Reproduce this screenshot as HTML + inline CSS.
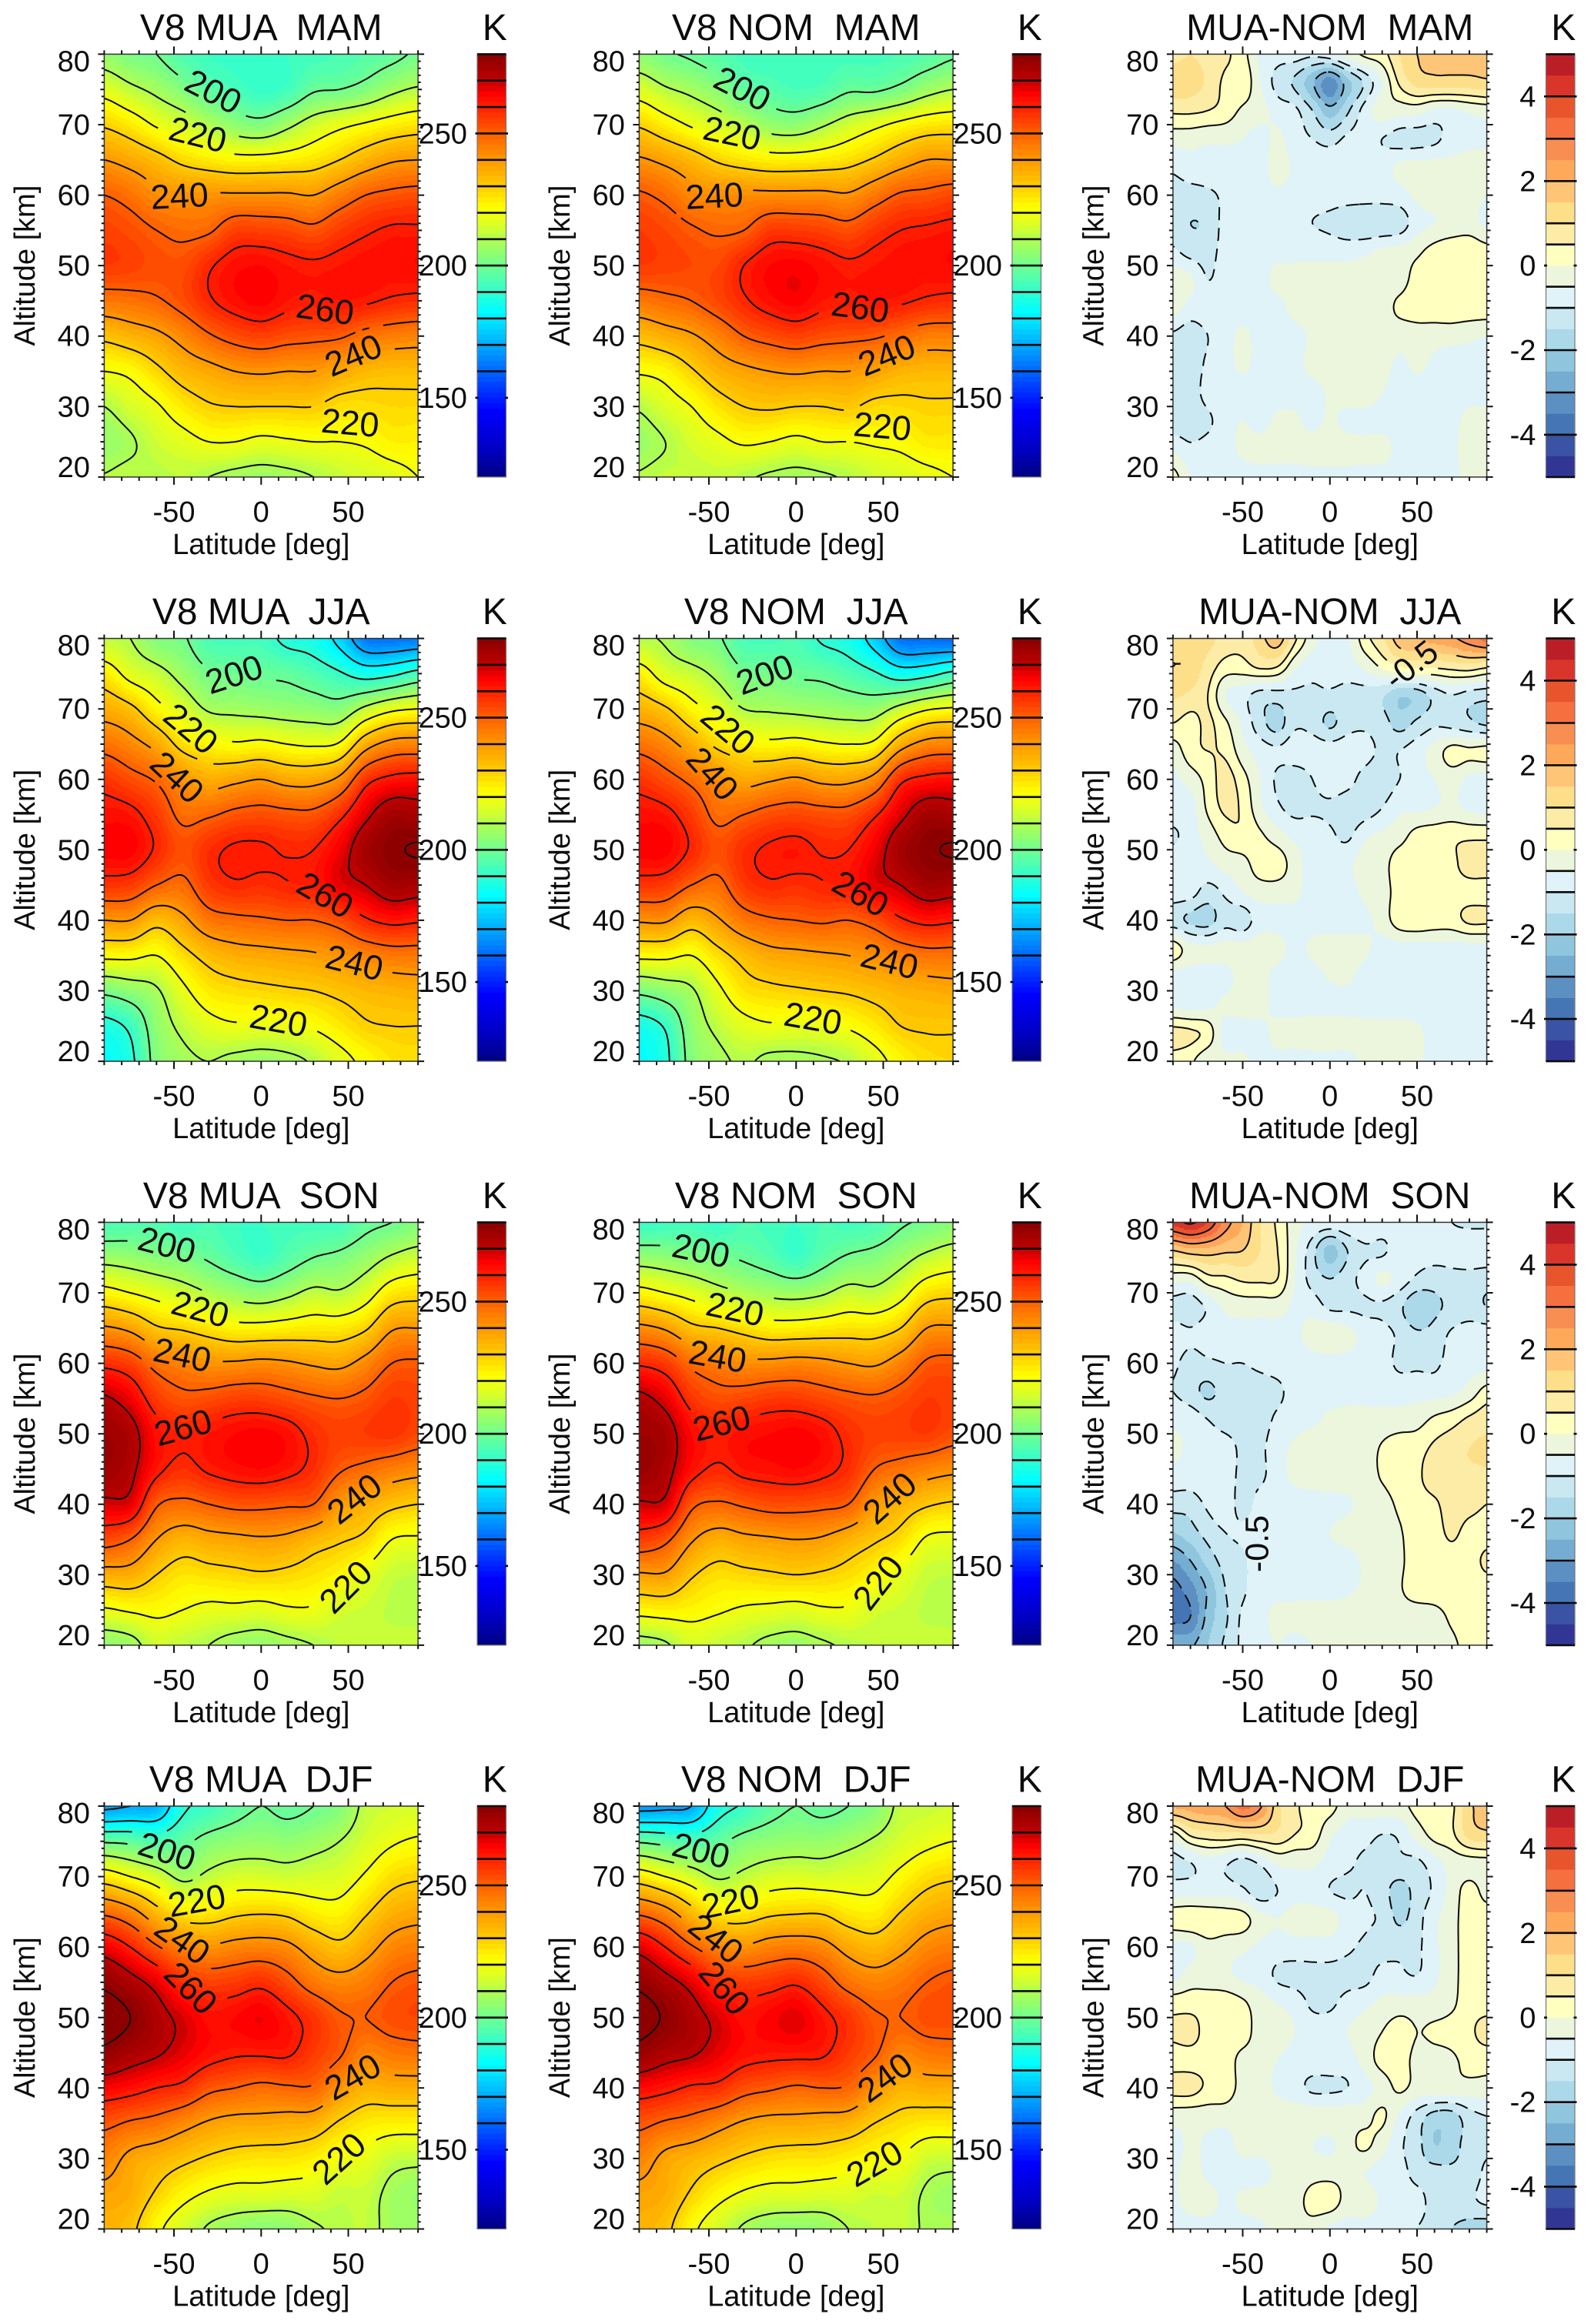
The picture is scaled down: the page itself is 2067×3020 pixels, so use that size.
<!DOCTYPE html>
<html lang="en">
<head>
<meta charset="utf-8">
<title>Temperature by latitude and altitude: MUA, NOM and difference</title>
<style>
html,body{margin:0;padding:0;background:#fff;}
svg{display:block;font-family:"Liberation Sans",Arial,sans-serif;}
text{fill:#0c0c0c;white-space:pre;}
</style>
</head>
<body>
<svg id="chart" xmlns="http://www.w3.org/2000/svg" width="2067" height="3020" viewBox="0 0 2067 3020"></svg>
<script>
// ---- grid coordinates ----
const T_LATS = [-90,-75,-60,-45,-30,-15,0,15,30,45,60,75,90];
const T_ALTS = [80,75,70,65,60,55,50,45,40,35,30,25,20];
const D_LATS = [-90,-80,-70,-60,-50,-40,-30,-20,-10,0,10,20,30,40,50,60,70,80,90];
const D_ALTS = [80,76,72,68,64,60,56,52,48,44,40,36,32,28,24,20];
const SEASONS = ['MAM','JJA','SON','DJF'];
const T_TICKS = [150,200,250];
const D_TICKS = [-4,-2,0,2,4];
const X_TICKS = [-50,0,50];
const Y_TICKS = [20,30,40,50,60,70,80];
const T_LINE_LEVELS = [160,170,180,190,200,210,220,230,240,250,260,270,280];
const D_LINE_LEVELS = [-5,-4,-3,-2,-1,-0.5,0.5,1,2,3,4,5];
// contours on the difference maps follow the fill band edges
const D_PLOT_LEVELS = [-4.5,-3.5,-2.5,-1.5,-1,0,0.5,1.5,2.5,3.5,4.5];

// ---- temperature [K]: one row per latitude in T_LATS, values follow T_ALTS ----
const MAM_MUA = [
[206,217,229,240,250,255,256,246,232,220,210,206,210.3],
[202,212,225,237,247,253,255,247,235,222,215,209,212],
[200,208,219,233,242,250,253,249,238,228,219,214,211],
[195,203,215,228,241,248,253,253,243,234,225,217,212],
[192,197,210,225,241,249,259,259,249,237,229,220,210],
[191,194,205,223,241,255,263,263,253,240,230,220,208],
[192,191,203,223,241,255,264,265,255,241,230,218,207],
[192,193,208,224,241,254,262,262,253,240,230,219,208],
[193,199,214,226,240,252,261,261,252,240,230,220,210],
[194,200,218,230,245,256,262,262,251,237,227,220,213],
[196,203,221,235,250,259,263,261,247,234,227,221,215],
[198,208,224,239,252,261,263,259,245,233,228,224,217],
[201,211,226,240,253,261,264,258,244,233,228,224,220]];
const MAM_NOM = [
[205,216,229,241,251,256,256,246,233,221,211,207,210.5],
[201,211,224,238,248,254,255,248,236,223,216,210,212.5],
[199,208,219,234,243,251,254,250,239,229,220,215,212],
[196,204,215,229,242,249,254,254,244,235,226,218,213],
[193,198,211,226,242,250,260,259,250,238,230,221,211],
[192,196,206,224,242,256,264,263,253,240,231,220,209],
[193,194,205,224,242,256,265,265,255,241,230,218,208],
[193,195,209,225,242,255,263,262,253,240,230,220,209],
[193,199,214,227,241,253,261,261,252,240,231,220,211],
[193,199,218,231,246,257,262,262,251,238,228,221,214],
[194,202,222,236,251,260,263,261,248,235,228,222,216],
[196,207,225,240,252,261,263,259,245,234,229,225,218],
[199,210,226,240,254,262,264,258,245,234,229,225,220]];
const JJA_MUA = [
[212,225,236,247,257,263,265,257,240,222,202,187,183],
[210,217,232,243,253,262,265,256,240,222,205,192,188],
[203,213,223,237,249,256,259,250,233,220,209,205,203],
[201,207,216,227,241,248,253,248,238,227,218,212,208],
[194,201,209,223,236,249,258,256,246,233,225,217,210],
[193,200,208,221,238,252,261,259,248,236,227,219,208],
[193,199,207,222,240,253,261,258,249,237,228,218,207],
[188,198,206,220,237,252,259.3,259.5,250,238,229,219,208],
[186,195,205,219,237,252,260,261,250,239,230,221,211],
[177,191,204,221,242,258,266,267,253,241,232,225,217],
[163,186,212,236,257,268,275,270,259,244,234,229,222],
[162,188,218,243,262,275,279,275,262,246,235,230,226],
[163,193,220,244,263,274,280.5,274,261,246,236,230,227]];
const JJA_NOM = [
[211,224,235,247,257,263,265,257,241,222,202,186,183],
[209,216,231,243,253,262,265,256,241,222,205,191,188],
[203,213,223,236,248,256,259,250,234,220,209,205,203],
[201,208,217,228,242,248,253,248,239,227,218,212,208],
[194,201,210,224,237,250,258,256,246,233,226,217,211],
[193,201,209,222,239,253,261,259,249,237,228,219,208],
[194,199,208,223,241,254,262,258,250,238,229,218,208],
[189,198,207,221,238,253,259.5,259.5,251,239,230,219,209],
[186,195,206,220,238,253,260,261,250,240,231,221,211],
[176,191,206,222,243,259,266,267,253,242,233,225,217],
[162,185,213,236,258,268,275,270,259,245,235,230,223],
[161,187,219,243,262,275,279,275,262,247,236,231,227],
[160,192,221,244,263,274,280.5,274,261,247,237,231,228]];
const SON_MUA = [
[194,207,223,241,258,271,276,276,268,254,236,219,205],
[195,206,220,238,255,266,273,272,267,250,236,221,207],
[195,204,217,231,247,256,263,262,251,240,230,222,214],
[192,202,214,229,244,252,260,258,248,235,226,220,212],
[194,199,210,226,241,253,262,261,250,237,227,218,210],
[192,195,207,223,241,255,264,263,252,238,228,218,207],
[192,192,205,223,242,255,265,264,252,239,229,217,206],
[193,196,208,224,241,253,263,262,251,238,228,219,208],
[193,200,212,225,239,251,258,258,250,234,226,219,210],
[193,202,211,225,238,250,255,251,240,231,223,215,212],
[198,206,216,229,243,252,256,248,236,228,218,213.5,212],
[200,211,225,239,250,256,257,245,232,220,213,211.5,213],
[203,214,227,240,251,255,254,243,230,219,212,210.2,214]];
const SON_NOM = [
[191,206,223,242,259,272,276,277,269,256,239,223,207],
[192,205,220,239,256,267,274,273,268,252,239,224,209],
[193,203,217,232,248,257,264,263,252,241,231,223,215],
[191,201,213,230,245,253,261,259,249,236,227,221,213],
[194,199,210,227,242,254,263,262,251,238,228,219,211],
[193,196,208,224,242,256,264,263,253,239,229,218,208],
[192,192,207,224,243,256,265,264,253,240,230,217,207],
[194,197,209,225,242,254,263,262,252,239,229,219,209],
[193,201,213,226,240,252,258,258,250,235,227,219,211],
[194,203,212,226,239,251,255,250,240,231,223,215,212],
[199,207,217,230,244,253,255,247,235,227,218,213.5,212],
[201,212,226,240,251,256,256,244,231,219,213,211.5,213],
[204,215,228,241,252,255,253,242,229,218,212,210.2,214]];
const DJF_MUA = [
[168,199,225,248,266,278,284,278,265,252,244,238,235],
[170,198,220,243,260,273,280,274,263,249,238,236,232],
[172,195,215,233,251,267,273,271,260,247,235,229,222],
[188,198,208,225,244,258,268,267,258,243,232,223,215],
[192,203,212,225,241,255,263,263,252,239,229,219,209],
[197,205,215,228,243,256,264,261,250,237,227,217,206],
[200,206,215,229,244,258,266,261,248,237,226,217,204],
[198,205,214,228,242,253,262,261,249,236,226,216,205],
[200,207,215,224,236,246,257,256,249,235,224,216,209],
[203,210,216,223,232,243,251,251,241,229,220,213,211],
[212,215,221,229,237,245,250,244,235,225,218,213,212],
[214,219,227,235,243,250,253,246,236,224,213,208,208],
[215,221,229,237,245,252,254,247,236,224,212,206,207]];
const DJF_NOM = [
[167,199,225,248,267,278,283,277,264,252,244,238,235],
[168,197,220,243,260,273,279,273,262,249,238,236,232],
[170,195,215,233,251,267,273,271,259,247,235,229,222],
[186,198,209,225,244,258,268,267,258,243,232,223,215],
[191,203,212,225,241,256,263,263,253,239,229,219,209],
[197,205,215,228,244,257,265,262,251,237,227,217,206],
[200,206,216,229,245,259,267,262,249,237,226,217,205],
[198,206,215,229,243,254,262,261,250,236,226,216,206],
[200,208,216,225,237,247,257,256,249,235,224,216,210],
[203,211,217,224,234,244,251,251,241,230,222,214,212],
[212,215,222,230,238,246,250,244,235,227,220,214,213],
[213,218,227,235,243,250,253,246,236,225,214,209,209],
[214,220,229,237,245,252,253,247,236,225,213,207,209]];

// ---- MUA minus NOM [K]: one row per altitude in D_ALTS, values follow D_LATS ----
const MAM_DIFF = [
[0.8,1.0,0.8,0.6,0.2,-0.6,-0.8,-0.8,-0.9,-0.7,-0.3,0.1,0.3,1.0,1.5,1.6,1.6,1.7,1.6],
[1.4,1.3,0.9,0.4,0.4,-0.5,-1.2,-1.6,-2.4,-3.3,-2.2,-1.4,-0.5,0.6,1.2,1.3,1.3,1.3,1.4],
[0.6,0.6,0.5,0.3,-0.1,-0.3,-0.7,-0.9,-1.5,-2.3,-1.6,-0.8,-0.2,-0.3,-0.3,-0.6,-0.6,-0.4,-0.3],
[-0.3,-0.3,-0.4,-0.4,-0.5,-0.7,-0.4,-0.8,-1.0,-1.2,-0.9,-0.8,-1.0,-1.2,-1.2,-1.1,-0.8,-0.6,-0.6],
[-0.9,-0.7,-0.7,-0.7,-0.7,-0.7,-0.3,-0.6,-0.7,-0.7,-0.7,-0.7,-0.7,-0.4,-0.3,-0.3,-0.3,-0.3,-0.3],
[-1.2,-1.2,-1.1,-0.9,-0.7,-0.7,-0.6,-0.7,-0.8,-0.8,-0.8,-0.8,-0.8,-0.7,-0.4,-0.3,-0.3,-0.3,-0.5],
[-1.3,-1.5,-1.4,-0.8,-0.7,-0.7,-0.9,-0.9,-1.0,-1.1,-1.3,-1.4,-1.4,-1.3,-0.7,-0.5,-0.4,-0.3,-0.6],
[-0.9,-1.2,-1.2,-0.8,-0.7,-0.7,-0.7,-0.7,-0.7,-0.7,-0.7,-0.6,-0.4,-0.3,-0.1,0.2,0.4,0.4,0.2],
[-0.2,-0.4,-1.0,-0.7,-0.6,-0.7,-0.3,-0.2,-0.2,-0.2,-0.2,-0.2,-0.2,-0.2,0.2,0.3,0.3,0.3,0.3],
[-0.3,-0.7,-0.7,-0.7,-0.7,-0.7,-0.7,-0.3,-0.2,-0.2,-0.2,-0.2,-0.2,0.1,0.2,0.3,0.3,0.3,0.3],
[-1.1,-1.3,-1.0,-0.7,-0.4,-0.7,-0.7,-0.7,-0.4,-0.2,-0.2,-0.2,-0.2,-0.3,-0.2,-0.3,-0.3,-0.4,-0.5],
[-1.3,-1.3,-0.9,-0.7,-0.4,-0.7,-0.7,-0.7,-0.3,-0.2,-0.2,-0.2,-0.3,-0.6,-0.4,-0.6,-0.8,-0.7,-0.7],
[-1.5,-1.3,-0.8,-0.7,-0.7,-0.7,-0.7,-0.7,-0.7,-0.4,-0.2,-0.2,-0.5,-0.7,-0.7,-0.7,-0.8,-0.7,-0.7],
[-1.3,-1.3,-1.1,-0.7,-0.5,-0.7,-0.4,-0.4,-0.7,-0.4,-0.7,-0.7,-0.7,-0.7,-0.8,-0.7,-0.7,-0.3,-0.3],
[-0.6,-0.9,-0.8,-0.7,-0.4,-0.3,-0.3,-0.3,-0.2,-0.2,-0.2,-0.3,-0.3,-0.7,-0.9,-0.7,-0.6,-0.3,-0.3],
[0.2,-0.5,-0.7,-0.7,-0.7,-0.7,-0.7,-0.7,-0.7,-0.7,-0.7,-0.7,-0.7,-0.7,-0.8,-0.9,-0.7,-0.3,-0.3]];
const JJA_DIFF = [
[1.3,1.4,1.2,0.8,0.7,1.3,1.8,0.6,-0.3,-0.7,-0.6,0.3,0.9,1.8,2.0,2.2,2.4,2.8,3.2],
[1.5,1.4,0.8,0.3,0.3,0.6,0.5,-0.4,-0.8,-0.7,-0.7,-0.4,0.1,0.5,0.6,0.6,0.7,0.8,0.6],
[1.1,0.9,0.5,-0.5,-0.8,-1.2,-1.2,-1.1,-1.1,-1.1,-1.2,-1.2,-1.4,-1.9,-1.8,-1.3,-1.0,-1.2,-1.3],
[0.5,0.3,0.6,0.1,-0.6,-1.3,-1.7,-1.1,-1.2,-1.6,-1.2,-1.1,-1.3,-1.7,-1.4,-1.1,-1.2,-1.4,-1.6],
[-0.3,0.3,0.5,0.4,-0.3,-0.7,-0.9,-0.7,-0.7,-0.7,-0.7,-0.8,-1.1,-1.0,-0.7,-0.3,0.2,0.1,0.2],
[-0.6,-0.3,0.2,0.7,0.2,-0.5,-1.1,-1.3,-1.0,-0.7,-0.8,-1.2,-1.3,-1.0,-0.7,-0.5,-0.3,-0.6,-0.7],
[-0.6,-0.7,0.1,0.6,0.4,-0.4,-0.9,-1.2,-1.1,-1.1,-1.3,-1.3,-1.0,-0.6,-0.6,-0.5,-0.4,-0.6,-0.7],
[-1.1,-0.7,-0.3,0.2,0.4,0.1,-0.3,-0.6,-0.7,-0.9,-1.1,-0.6,-0.4,-0.2,0.2,0.3,0.4,0.4,0.4],
[-0.6,-0.7,-0.6,-0.3,-0.2,0.3,0.3,-0.3,-0.7,-0.7,-0.6,-0.3,-0.2,0.3,0.3,0.3,0.4,0.7,0.7],
[-0.7,-0.8,-1.2,-0.9,-0.5,-0.3,-0.3,-0.4,-0.7,-0.7,-0.7,-0.4,-0.3,0.3,0.3,0.3,0.3,0.3,0.3],
[-1.3,-1.6,-1.7,-1.2,-1.3,-0.7,-0.7,-0.7,-0.7,-0.7,-0.7,-0.6,-0.3,0.3,0.4,0.3,0.3,0.6,0.6],
[0.3,-0.3,-0.4,-0.3,-0.3,-0.2,-0.3,-0.7,-0.4,-0.3,-0.3,-0.4,-0.7,-0.7,-0.7,-0.7,-0.7,-0.7,-0.7],
[-0.7,-0.7,-0.7,-0.7,-0.3,-0.3,-0.7,-0.7,-0.7,-0.45,-0.4,-0.7,-0.7,-0.7,-0.7,-0.7,-0.7,-0.7,-0.7],
[-0.6,-0.7,-0.6,-0.4,-0.3,-0.3,-0.7,-0.7,-0.7,-0.7,-0.7,-0.7,-0.7,-0.7,-0.7,-0.7,-0.7,-0.7,-0.7],
[0.7,0.6,0.3,-0.7,-0.7,-0.7,-0.3,-0.3,-0.2,-0.2,-0.2,-0.3,-0.3,-0.3,-0.4,-0.7,-0.7,-0.6,-0.6],
[0.3,0.1,-0.4,-0.4,-0.4,-0.7,-0.7,-0.7,-0.7,-0.7,-0.7,-0.4,-0.3,-0.3,-0.4,-0.7,-0.7,-0.7,-0.7]];
const SON_DIFF = [
[4.2,4.6,4.0,2.8,2.0,1.0,0.4,-0.3,-0.6,-0.7,-0.6,-0.5,-0.7,-0.9,-0.7,-0.8,-1.0,-1.1,-1.1],
[1.5,1.8,1.8,1.6,1.5,1.0,0.5,-0.4,-1.3,-2.2,-1.5,-1.1,-1.1,-0.7,-0.7,-0.7,-0.7,-0.6,-0.6],
[-0.3,-0.3,0.3,0.4,0.6,0.6,0.5,-0.5,-1.2,-1.5,-1.2,-0.8,-0.4,-0.7,-1.1,-1.3,-1.2,-1.2,-1.3],
[-1.2,-1.3,-0.9,-0.4,-0.3,-0.3,-0.3,-0.6,-0.7,-1.1,-1.1,-1.1,-1.1,-1.4,-1.9,-1.6,-1.4,-1.3,-1.5],
[-0.7,-0.9,-0.7,-0.7,-0.7,-0.7,-0.7,-0.6,-0.3,-0.1,-0.3,-0.7,-0.8,-1.1,-1.4,-1.3,-0.9,-0.7,-0.7],
[-0.9,-1.2,-1.1,-1.0,-1.0,-0.9,-0.8,-0.7,-0.7,-0.7,-0.7,-0.7,-0.8,-1.1,-1.1,-1.1,-0.8,-0.7,-0.7],
[-1.0,-1.3,-1.6,-1.3,-1.2,-1.2,-1.1,-0.8,-0.7,-0.7,-0.7,-0.7,-0.7,-0.7,-0.7,-0.7,-0.6,-0.3,0.2],
[-0.6,-0.7,-1.0,-1.2,-1.2,-1.2,-0.9,-0.7,-0.6,-0.4,-0.3,-0.3,-0.3,-0.3,-0.2,0.1,0.3,0.6,0.8],
[-0.4,-0.6,-0.7,-0.8,-1.1,-1.1,-0.7,-0.4,-0.2,-0.2,-0.2,-0.2,0.05,0.3,0.3,0.6,0.8,1.0,1.1],
[-0.7,-0.7,-0.6,-0.8,-1.1,-1.1,-0.7,-0.4,-0.3,-0.2,-0.2,-0.2,0.05,0.3,0.4,0.8,0.9,0.9,0.9],
[-1.3,-1.3,-0.9,-0.7,-1.2,-0.8,-0.7,-0.7,-0.7,-0.7,-0.6,-0.3,-0.2,0.1,0.3,0.4,0.8,0.7,0.5],
[-2.0,-1.7,-1.3,-1.0,-0.9,-0.7,-0.7,-0.7,-0.7,-0.5,-0.3,-0.2,-0.2,-0.05,0.3,0.3,0.6,0.3,0.3],
[-3.0,-2.5,-1.8,-1.3,-1.1,-0.7,-0.7,-0.7,-0.7,-0.7,-0.7,-0.4,-0.2,-0.1,0.3,0.3,0.3,0.3,0.6],
[-3.7,-3.2,-2.4,-1.5,-1.1,-0.7,-0.7,-0.7,-0.7,-0.7,-0.6,-0.4,-0.2,-0.05,0.3,0.3,0.3,0.3,0.3],
[-3.7,-3.5,-2.3,-1.6,-0.9,-0.7,-0.3,-0.3,-0.2,-0.2,-0.2,-0.2,-0.2,-0.2,-0.3,-0.2,0.1,0.3,0.3],
[-2.6,-2.6,-2.0,-1.4,-0.9,-0.7,-0.5,-0.7,-0.5,-0.3,-0.3,-0.5,-0.3,-0.2,-0.2,-0.2,-0.1,0.2,0.3]];
const DJF_DIFF = [
[2.1,2.2,2.4,2.5,3.2,2.6,1.2,0.6,0.3,0.2,-0.3,-0.3,-0.2,-0.2,0.2,0.3,0.4,1.4,1.6],
[-0.2,0.6,0.8,0.9,0.9,1.0,0.9,0.5,0.3,-0.4,-0.7,-0.8,-1.0,-0.9,-0.3,0.2,0.4,1.2,1.4],
[-1.2,-1.0,-0.7,-0.9,-1.2,-0.9,-0.4,-0.4,-0.4,-0.7,-0.9,-1.1,-1.2,-1.1,-1.1,-0.7,-0.3,-0.2,-0.2],
[-0.7,-0.7,-0.7,-0.7,-0.9,-1.3,-1.0,-0.7,-0.7,-1.0,-1.1,-1.0,-1.3,-1.7,-1.3,-0.9,-0.3,0.2,-0.2],
[0.3,0.4,0.4,0.3,0.2,-0.3,-0.5,-0.3,-0.3,-0.3,-0.7,-0.9,-1.1,-1.6,-1.2,-0.6,-0.2,0.3,0.3],
[-0.7,-0.6,-0.2,-0.3,-0.4,-0.6,-0.7,-0.7,-0.7,-0.7,-0.9,-1.1,-1.2,-1.1,-1.1,-0.6,-0.2,0.3,0.3],
[-0.7,-0.3,-0.3,-0.4,-0.6,-0.7,-1.1,-1.2,-1.2,-1.2,-1.2,-1.2,-0.8,-0.9,-1.0,-0.6,-0.2,0.3,0.3],
[0.3,0.3,0.3,0.3,0.1,-0.3,-0.5,-0.7,-1.1,-1.1,-0.8,-0.6,-0.4,-0.3,-0.3,-0.3,-0.1,0.3,0.3],
[0.6,0.7,0.3,0.3,0.3,-0.3,-0.3,-0.5,-0.7,-0.7,-0.5,-0.3,0.0,0.3,0.0,0.1,0.2,0.4,0.7],
[0.3,0.3,0.3,0.3,-0.2,-0.3,-0.5,-0.7,-0.7,-0.7,-0.7,-0.3,0.2,0.3,-0.2,-0.2,-0.1,0.2,0.2],
[0.7,0.7,0.4,0.3,-0.2,-0.3,-0.6,-0.8,-1.1,-1.1,-1.0,-0.7,-0.3,0.1,-0.2,-0.2,-0.2,-0.2,-0.2],
[-0.3,-0.3,-0.3,-0.3,-0.3,-0.2,-0.2,-0.2,-0.2,-0.2,-0.2,-0.2,0.1,-0.6,-1.2,-1.7,-1.7,-1.2,-1.0],
[-0.7,-0.4,-0.6,-0.7,-0.3,-0.3,-0.3,-0.2,-0.5,-0.6,-0.2,0.1,-0.3,-0.9,-1.3,-2.0,-1.7,-1.3,-1.1],
[-0.6,-0.3,-0.6,-0.7,-0.7,-0.7,-0.4,-0.3,-0.2,-0.2,-0.2,-0.5,-0.7,-0.8,-1.2,-1.3,-1.4,-1.3,-0.9],
[-0.6,-0.3,-0.3,-0.6,-0.4,-0.3,-0.3,-0.2,0.2,0.3,-0.2,-0.2,-0.6,-0.7,-0.8,-1.2,-1.2,-1.1,-0.9],
[-0.7,-0.7,-0.7,-0.7,-0.7,-0.6,-0.3,-0.2,-0.2,-0.6,-0.7,-0.7,-0.7,-0.8,-1.0,-1.2,-1.5,-1.7,-1.8]];

// ---- inline contour labels: text, latitude, altitude, rotation ----
const MAM_MUA_LABELS = [['200',-27.4,74.7,27],['220',-36.3,68.6,14],['240',-46.8,59.9,-3],['260',36.7,43.8,8],['240',52.9,37.3,-23],['220',51.1,27.7,5]];
const MAM_NOM_LABELS = [['200',-30.8,75.1,27],['220',-36.7,68.8,12],['240',-46.9,59.9,-3],['260',36.8,44.1,8],['240',52,37.3,-22],['220',49.5,27.2,5]];
const JJA_MUA_LABELS = [['200',-15.6,74.9,-18],['220',-40.3,67.2,40],['240',-48.2,60.3,43],['260',36.7,43.6,30],['240',53.5,34,14],['220',10,25.8,10]];
const JJA_NOM_LABELS = [['200',-18,74.9,-20],['220',-39,67.1,40],['240',-48,60.8,48],['260',37,43.8,30],['240',53.6,34.2,14],['220',9.7,26.1,10]];
const SON_MUA_LABELS = [['200',-54,76.8,15],['220',-34.9,67.7,15],['240',-45.2,61.2,12],['260',-44.8,50.9,-15],['240',53.5,40.8,-38],['220',48.5,28.3,-45]];
const SON_NOM_LABELS = [['200',-54.5,76,12],['220',-35,67.7,12],['240',-45,61,10],['260',-42.7,51.5,-14],['240',53.7,40.9,-42],['220',47,28.9,-52]];
const DJF_MUA_LABELS = [['200',-54,73.6,18],['220',-36.9,66.6,-10],['240',-45.2,61,35],['260',-40.3,54.2,45],['240',52.5,41.6,-30],['220',44.6,30,-42]];
const DJF_NOM_LABELS = [['200',-54.5,73.7,14],['220',-37.6,66.5,-12],['240',-46,61.2,38],['260',-41,54.2,50],['240',51,41.5,-36],['220',45,29.3,-30]];
const MAM_DIFF_LABELS = [];
const JJA_DIFF_LABELS = [['-0.5',46.8,76.2,-38]];
const SON_DIFF_LABELS = [['-0.5',-41.6,34.4,-90]];
const DJF_DIFF_LABELS = [];

// ---- colour scales ----
const T_STOPS = [[120,'#000080'],[130,'#0000c0'],[145,'#0000ff'],[150,'#0020ff'],[160,'#0066ff'],[170,'#00aaff'],[183,'#00ffff'],[190,'#30ffd0'],[200,'#70ff90'],[210,'#b0ff50'],[215,'#d8ff28'],[222,'#ffff00'],[230,'#ffcc00'],[240,'#ff9900'],[250,'#ff6000'],[260,'#ff2000'],[265,'#ff0000'],[270,'#c00000'],[280,'#880000']];
const D_COLORS = ['#313695','#3a53a4','#4575b4','#5c90c2','#74add1','#90c5de','#abd9e9','#c9e8f2','#e0f3f8','#ecf6dc','#ffffc0','#fdeca6','#fddf8a','#fec576','#fda959','#f98e52','#f6703f','#e8552d','#d9352a','#bb1e26'];

// ---- page geometry ----
const COL_LEFT = [135.4,830.4,1523.9];
const ROW_TOP = [70.4,829.6,1588.4,2347];
const PLOT_W = 407.7, PLOT_H = 549.5;
const BAR_GAP = 484.6, BAR_W = 37.5;

const svg = document.getElementById('chart');
const NS = 'http://www.w3.org/2000/svg';
function mk(tag, attrs, parent){
  const e = document.createElementNS(NS, tag);
  for (const k in attrs) e.setAttribute(k, attrs[k]);
  (parent || svg).appendChild(e);
  return e;
}
function hex(c){ return [parseInt(c.slice(1,3),16),parseInt(c.slice(3,5),16),parseInt(c.slice(5,7),16)]; }
function tempColor(v){
  if (v <= T_STOPS[0][0]) return T_STOPS[0][1];
  for (let i = 1; i < T_STOPS.length; i++){
    if (v <= T_STOPS[i][0]){
      const a = T_STOPS[i-1], b = T_STOPS[i], f = (v-a[0])/(b[0]-a[0]);
      const ca = hex(a[1]), cb = hex(b[1]);
      return 'rgb(' + ca.map((x,n) => Math.round(x+(cb[n]-x)*f)).join(',') + ')';
    }
  }
  return T_STOPS[T_STOPS.length-1][1];
}
const TEMP_SCALE = {min:120,max:280,step:2,color:k => tempColor(120+(k+0.5)*2),count:80,lines:T_LINE_LEVELS,plotLines:T_LINE_LEVELS,ticks:T_TICKS};
const DIFF_SCALE = {min:-5,max:5,step:0.5,color:k => D_COLORS[k],count:20,lines:D_LINE_LEVELS,plotLines:D_PLOT_LEVELS,ticks:D_TICKS};

function transpose(rows){ return rows[0].map((_,i) => rows.map(r => r[i])); }
function cr(p0,p1,p2,p3,t){
  return 0.5*((2*p1)+(-p0+p2)*t+(2*p0-5*p1+4*p2-p3)*t*t+(-p0+3*p1-3*p2+p3)*t*t*t);
}
// grid[latIndex][altIndex]; altitudes descending
function sampler(grid, lats, alts){
  const nx = lats.length, ny = alts.length;
  const dLat = lats[1]-lats[0], dAlt = alts[0]-alts[1];
  const clampI = (i,n) => Math.max(0,Math.min(n-1,i));
  return function(lat, alt){
    const u = Math.max(0,Math.min(nx-1.0001,(lat-lats[0])/dLat));
    const v = Math.max(0,Math.min(ny-1.0001,(alts[0]-alt)/dAlt));
    const i = Math.floor(u), j = Math.floor(v), tu = u-i, tv = v-j;
    const cols = [];
    for (let a = -1; a <= 2; a++){
      const g = grid[clampI(i+a,nx)];
      cols.push(cr(g[clampI(j-1,ny)],g[clampI(j,ny)],g[clampI(j+1,ny)],g[clampI(j+2,ny)],tv));
    }
    return cr(cols[0],cols[1],cols[2],cols[3],tu);
  };
}

function fmtName(s){ return s.toLowerCase().replace(/[^a-z0-9]+/g,'-').replace(/^-|-$/g,''); }

function drawPanel(col, row, opts){
  const left = COL_LEFT[col], top = ROW_TOP[row];
  const right = left+PLOT_W, bottom = top+PLOT_H;
  const xScale = lat => left+(lat+90)/180*PLOT_W;
  const yScale = alt => top+(80-alt)/60*PLOT_H;
  const latAt = px => (px-left)/PLOT_W*180-90;
  const altAt = py => 80-(py-top)/PLOT_H*60;
  const scale = opts.scale, field = opts.field;
  const panelName = fmtName(opts.title);

  const g = mk('g',{});
  
  

  // filled heatmap: bands built from the sampled field
  const heat = mk('g',{'shape-rendering':'crispEdges'}, g);
  
  
  const CELL = 2;
  const x0 = Math.round(left), x1 = Math.round(right), y0 = Math.round(top), y1 = Math.round(bottom);
  const bandPaths = {};
  const bandOf = v => Math.max(0,Math.min(scale.count-1,Math.floor((v-scale.min)/scale.step)));
  for (let py = y0; py < y1; py += CELL){
    let runStart = x0, cur = -1;
    const h = Math.min(CELL,y1-py), alt = altAt(py+h/2);
    for (let px = x0; px <= x1; px += CELL){
      const b = px >= x1 ? -2 : bandOf(field(latAt(px+CELL/2),alt));
      if (b !== cur){
        if (cur >= 0){
          const end = Math.min(px,x1);
          bandPaths[cur] = (bandPaths[cur]||'') + 'M'+runStart+' '+py+'H'+end+'V'+(py+h)+'H'+runStart+'Z';
        }
        runStart = px; cur = b;
      }
    }
  }
  for (const k in bandPaths){
    const p = mk('path',{d:bandPaths[k],fill:scale.color(+k)}, heat);
    
    
  }

  // contour lines
  const boxes = opts.labels.map(l => {
    const a = l[3]*Math.PI/180, halfW = l[0].length*13.5+10;
    return {x:xScale(l[1]),y:yScale(l[2]),c:Math.cos(a),s:Math.sin(a),hw:halfW,hh:24};
  });
  const inLabel = (x,y) => boxes.some(b => {
    const dx = x-b.x, dy = y-b.y;
    return Math.abs(dx*b.c+dy*b.s) < b.hw && Math.abs(-dx*b.s+dy*b.c) < b.hh;
  });
  const STEP = 3;
  const nx = Math.floor(PLOT_W/STEP), ny = Math.floor(PLOT_H/STEP);
  const sx = PLOT_W/nx, sy = PLOT_H/ny;
  const vals = [];
  for (let j = 0; j <= ny; j++){
    const r = new Float64Array(nx+1);
    for (let i = 0; i <= nx; i++) r[i] = field(latAt(left+i*sx),altAt(top+j*sy));
    vals.push(r);
  }
  const lineGroup = mk('g',{fill:'none',stroke:'#0a0a0a','stroke-width':2,'stroke-linejoin':'round'}, g);
  
  
  scale.plotLines.forEach(level => {
    const pts = new Map(), adj = new Map();
    const W = nx+1;
    const hId = (i,j) => 2*(j*W+i), vId = (i,j) => 2*(j*W+i)+1;
    const crossH = (i,j) => {
      const a = vals[j][i], b = vals[j][i+1];
      if ((a>=level) === (b>=level)) return null;
      const id = hId(i,j);
      if (!pts.has(id)) pts.set(id,[left+(i+(level-a)/(b-a))*sx, top+j*sy]);
      return id;
    };
    const crossV = (i,j) => {
      const a = vals[j][i], b = vals[j+1][i];
      if ((a>=level) === (b>=level)) return null;
      const id = vId(i,j);
      if (!pts.has(id)) pts.set(id,[left+i*sx, top+(j+(level-a)/(b-a))*sy]);
      return id;
    };
    const link = (a,b) => {
      if (!adj.has(a)) adj.set(a,[]);
      if (!adj.has(b)) adj.set(b,[]);
      adj.get(a).push(b); adj.get(b).push(a);
    };
    for (let j = 0; j < ny; j++) for (let i = 0; i < nx; i++){
      const t = crossH(i,j), r = crossV(i+1,j), b = crossH(i,j+1), l = crossV(i,j);
      const list = [t,r,b,l].filter(v => v !== null);
      if (list.length === 2) link(list[0],list[1]);
      else if (list.length === 4){
        const centre = (vals[j][i]+vals[j][i+1]+vals[j+1][i]+vals[j+1][i+1])/4;
        if ((centre>=level) === (vals[j][i]>=level)){ link(t,r); link(b,l); }
        else { link(t,l); link(r,b); }
      }
    }
    const seen = new Set();
    const chains = [];
    const walk = start => {
      const chain = [start];
      seen.add(start);
      let cur = start, go = true;
      while (go){
        go = false;
        for (const n of adj.get(cur)){
          if (!seen.has(n)){ seen.add(n); chain.push(n); cur = n; go = true; break; }
        }
      }
      if (chain.length > 2 && adj.get(cur).includes(start)) chain.push(start);
      chains.push(chain);
    };
    for (const [id,n] of adj) if (n.length === 1 && !seen.has(id)) walk(id);
    for (const id of adj.keys()) if (!seen.has(id)) walk(id);
    let d = '';
    chains.forEach(chain => {
      let pen = false;
      chain.forEach(id => {
        const p = pts.get(id);
        if (inLabel(p[0],p[1])){ pen = false; return; }
        d += (pen ? 'L' : 'M') + p[0].toFixed(1) + ' ' + p[1].toFixed(1);
        pen = true;
      });
    });
    if (d){
      const path = mk('path',{d:d}, lineGroup);
      
      
      if (level < 0 && opts.dashNegative) path.setAttribute('stroke-dasharray','17 10');
    }
  });

  // contour labels
  opts.labels.forEach(l => {
    const x = xScale(l[1]), y = yScale(l[2]);
    const t = mk('text',{x:x,y:y,'font-size':l[0].length>3?43:45,'text-anchor':'middle','dominant-baseline':'central',transform:'rotate('+l[3]+' '+x+' '+y+')'}, g);
    
    
    t.textContent = l[0];
  });

  // axis frame and ticks
  const axes = mk('g',{fill:'none',stroke:'#111'}, g);
  
  
  const frame = mk('rect',{x:left,y:top,width:PLOT_W,height:PLOT_H,'stroke-width':1.5,stroke:'#333'}, axes);
  
  
  let td = '';
  for (let lat = -90; lat <= 90; lat += 10){
    const major = X_TICKS.includes(lat), len = major ? 10 : 5, x = xScale(lat).toFixed(1);
    td += 'M'+x+' '+top+'v'+(-len)+'M'+x+' '+bottom+'v'+len;
  }
  for (let alt = 20; alt <= 80; alt += 1){
    const len = Y_TICKS.includes(alt) ? 8 : (alt%5===0 ? 5 : 3.5), y = yScale(alt).toFixed(1);
    td += 'M'+left+' '+y+'h'+(-len)+'M'+right+' '+y+'h'+len;
  }
  const tickPath = mk('path',{d:td,'stroke-width':2}, axes);
  
  

  // tick labels
  Y_TICKS.forEach(v => {
    const shift = v === 80 ? 22 : (v === 20 ? 0 : 13);
    const t = mk('text',{x:left-18.5,y:yScale(v)+shift,'font-size':38,'text-anchor':'end'}, g);
    
    
    t.textContent = String(v);
  });
  X_TICKS.forEach(v => {
    const t = mk('text',{x:xScale(v),y:bottom+58,'font-size':38,'text-anchor':'middle'}, g);
    
    
    t.textContent = String(v);
  });
  const xTitle = mk('text',{x:left+PLOT_W/2,y:bottom+100,'font-size':38,'text-anchor':'middle'}, g);
  
  
  xTitle.textContent = 'Latitude [deg]';
  const yx = left-90.4, yy = top+PLOT_H/2;
  const yTitle = mk('text',{x:yx,y:yy,'font-size':38,'text-anchor':'middle',transform:'rotate(-90 '+yx+' '+yy+')'}, g);
  
  
  yTitle.textContent = 'Altitude [km]';
  const title = mk('text',{x:left+PLOT_W/2,y:top-18.4,'font-size':48,'text-anchor':'middle'}, g);
  
  
  title.textContent = opts.title;

  // colour bar
  const barX = left+BAR_GAP, barVal = v => bottom-(v-scale.min)/(scale.max-scale.min)*PLOT_H;
  const bar = mk('g',{}, g);
  
  
  for (let k = 0; k < scale.count; k++){
    const yTop = barVal(scale.min+(k+1)*scale.step), yBot = barVal(scale.min+k*scale.step);
    const seg = mk('rect',{x:barX,y:yTop-0.3,width:BAR_W,height:yBot-yTop+0.6,fill:scale.color(k)}, bar);
    
    
  }
  const barFrame = mk('rect',{x:barX,y:top,width:BAR_W,height:PLOT_H,fill:'none',stroke:'#777','stroke-width':1.2}, bar);
  
  
  let bd = '';
  scale.lines.forEach(v => { const y = barVal(v); if (y >= top-1) bd += 'M'+barX+' '+y.toFixed(1)+'h'+BAR_W; });
  scale.ticks.forEach(v => { const y = barVal(v).toFixed(1); bd += 'M'+(barX-2.5)+' '+y+'h4M'+(barX+BAR_W-1.5)+' '+y+'h4'; });
  const barLines = mk('path',{d:bd,stroke:'#0a0a0a','stroke-width':2.6,fill:'none'}, bar);
  
  
  scale.ticks.forEach(v => {
    const t = mk('text',{x:left+471.5,y:barVal(v)+13,'font-size':38,'text-anchor':'end'}, bar);
    
    
    t.textContent = String(v);
  });
  const unit = mk('text',{x:barX+BAR_W/2+4,y:top-18.4,'font-size':48,'text-anchor':'middle'}, bar);
  
  
  unit.textContent = 'K';
}

const TEMP_PANELS = [
  [MAM_MUA,JJA_MUA,SON_MUA,DJF_MUA],
  [MAM_NOM,JJA_NOM,SON_NOM,DJF_NOM]
];
const TEMP_LABELS = [
  [MAM_MUA_LABELS,JJA_MUA_LABELS,SON_MUA_LABELS,DJF_MUA_LABELS],
  [MAM_NOM_LABELS,JJA_NOM_LABELS,SON_NOM_LABELS,DJF_NOM_LABELS]
];
const DIFF_PANELS = [MAM_DIFF,JJA_DIFF,SON_DIFF,DJF_DIFF];
const DIFF_LABELS = [MAM_DIFF_LABELS,JJA_DIFF_LABELS,SON_DIFF_LABELS,DJF_DIFF_LABELS];
const RUN_NAMES = ['V8 MUA','V8 NOM'];

SEASONS.forEach((season,row) => {
  [0,1].forEach(col => {
    drawPanel(col,row,{
      title:RUN_NAMES[col]+'  '+season,
      field:sampler(TEMP_PANELS[col][row],T_LATS,T_ALTS),
      scale:TEMP_SCALE,
      labels:TEMP_LABELS[col][row],
      dashNegative:false
    });
  });
  drawPanel(2,row,{
    title:'MUA-NOM  '+season,
    field:sampler(transpose(DIFF_PANELS[row]),D_LATS,D_ALTS),
    scale:DIFF_SCALE,
    labels:DIFF_LABELS[row],
    dashNegative:true
  });
});
</script>
</body>
</html>
